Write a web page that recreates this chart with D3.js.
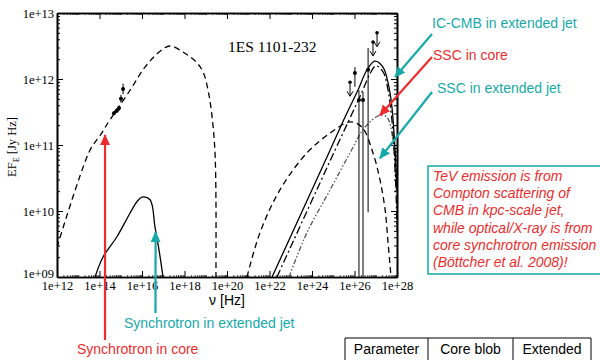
<!DOCTYPE html>
<html>
<head>
<meta charset="utf-8">
<script src="https://cdn.jsdelivr.net/npm/d3@7"></script>
<style>
  body { margin: 0; background: #fff; }
  svg { display: block; }
  .axis path, .axis line { stroke: #000; }
  .axis text { font-family: "Liberation Serif", "DejaVu Serif", serif; font-size: 12.5px; fill: #000; }
  .note { font-family: "Liberation Sans", Arial, sans-serif; font-size: 14px; }
</style>
</head>
<body>
<svg id="chart" width="600" height="360"></svg>
<script>
// values are log10(nu / Hz) and log10(EF_E / Jy Hz)
const coreSyncNu = [12.00, 13.55, 14.02, 14.49, 15.44, 16.14, 16.85, 17.32, 18.02, 18.54, 18.87, 19.15, 19.34, 19.44, 19.48, 19.48];
const coreSyncF  = [9.45, 10.92, 11.14, 11.38, 11.83, 12.18, 12.42, 12.50, 12.39, 12.26, 12.11, 11.76, 11.30, 10.85, 10.17, 9.00];

const extSyncNu = [13.79, 14.16, 14.82, 15.44, 15.76, 16.00, 16.38, 16.61, 16.80, 16.99];
const extSyncF  = [9.00, 9.30, 9.61, 9.97, 10.14, 10.21, 10.17, 9.76, 9.41, 9.00];

const icCmbNu = [22.12, 24.85, 25.55, 26.16, 26.59, 26.96, 27.34, 27.58, 27.76, 27.91, 28.00];
const icCmbF  = [9.00, 10.92, 11.42, 11.83, 12.14, 12.27, 12.18, 11.94, 11.58, 10.92, 10.32];

const icAbsNu = [22.35, 25.08, 25.79, 26.35, 26.73, 27.01, 27.34, 27.58, 27.76, 27.86, 27.95, 28.00];
const icAbsF  = [9.00, 10.92, 11.41, 11.80, 12.08, 12.20, 12.11, 11.83, 11.38, 10.92, 10.32, 9.71];

const sscCoreNu = [22.92, 23.76, 24.85, 25.79, 26.49, 27.20, 27.53, 27.81, 27.95, 28.00];
const sscCoreF  = [9.00, 9.67, 10.32, 10.88, 11.27, 11.45, 11.42, 11.08, 10.47, 10.02];

const sscHumpNu = [20.94, 21.55, 22.49, 23.76, 24.85, 25.79, 26.35, 26.87, 27.20, 27.44, 27.58, 27.72];
const sscHumpF  = [9.00, 9.67, 10.32, 10.88, 11.18, 11.35, 11.27, 10.88, 10.47, 10.02, 9.52, 9.00];

const optNu = [14.68, 14.82, 14.92, 15.01, 15.11];
const optF  = [11.48, 11.52, 11.56, 11.70, 11.85];
const optHi = [11.50, 11.55, 11.60, 11.76, 11.93];
const optLo = [11.46, 11.49, 11.52, 11.64, 11.77];

const tevNu = [26.02, 26.21, 26.40, 26.64];
const tevF  = [12.09, 11.68, 11.68, 12.14];
const tevHi = [12.18, 11.83, 11.80, 12.47];
const tevLo = [11.88, 9.0, 9.0, 9.98];

const ulNu = [25.79, 26.87, 27.06];
const ulF  = [11.95, 12.56, 12.70];

const xTicks = [12, 14, 16, 18, 20, 22, 24, 26, 28];
const yTicks = [9, 10, 11, 12, 13];

const boxLines = ["TeV emission is from", "Compton scattering of", "CMB in kpc-scale jet,",
  "while optical/X-ray is from", "core synchrotron emission", "(Böttcher et al. 2008)!"];
const tableHead = ["Parameter", "Core blob", "Extended"];

const teal = "#17a9a9", red = "#ec2d2d";

const svg = d3.select("#chart");
const margin = {left: 57, right: 203, top: 13, bottom: 83};
const W = 600 - margin.left - margin.right, H = 360 - margin.top - margin.bottom;

const x = d3.scaleLog().domain([1e12, 1e28]).range([margin.left, margin.left + W]);
const y = d3.scaleLog().domain([1e9, 1e13]).range([margin.top + H, margin.top]);
const p = v => Math.pow(10, v);
const fmt = d => "1e+" + String(Math.round(Math.log10(d))).padStart(2, "0");

svg.append("defs").append("clipPath").attr("id", "plot")
  .append("rect").attr("x", margin.left).attr("y", margin.top).attr("width", W).attr("height", H);

// minor ticks
const yMinor = [];
for (let e = 9; e < 13; e++) for (let k = 2; k < 10; k++) yMinor.push(k * p(e));
const xMinor = [];
for (let e = 12; e < 28; e++) for (let k = 1; k < 10; k++) if (!(k === 1 && e % 2 === 0)) xMinor.push(k * p(e));

svg.append("g").attr("class", "axis").attr("transform", `translate(0,${margin.top + H})`)
  .call(d3.axisBottom(x).tickValues(xMinor).tickSize(-2).tickFormat("").tickSizeOuter(0))
  .selectAll("line").attr("stroke-width", 0.7);
svg.append("g").attr("class", "axis").attr("transform", `translate(0,${margin.top})`)
  .call(d3.axisTop(x).tickValues(xMinor).tickSize(-2).tickFormat("").tickSizeOuter(0))
  .selectAll("line").attr("stroke-width", 0.7);
svg.append("g").attr("class", "axis").attr("transform", `translate(${margin.left},0)`)
  .call(d3.axisLeft(y).tickValues(yMinor).tickSize(-3).tickFormat("").tickSizeOuter(0));
svg.append("g").attr("class", "axis").attr("transform", `translate(${margin.left + W},0)`)
  .call(d3.axisRight(y).tickValues(yMinor).tickSize(-3).tickFormat("").tickSizeOuter(0));

// major ticks
svg.append("g").attr("class", "axis").attr("transform", `translate(0,${margin.top + H})`)
  .call(d3.axisBottom(x).tickValues(xTicks.map(p)).tickSize(-6).tickPadding(4).tickFormat(fmt).tickSizeOuter(0));
svg.append("g").attr("class", "axis").attr("transform", `translate(0,${margin.top})`)
  .call(d3.axisTop(x).tickValues(xTicks.map(p)).tickSize(-6).tickFormat("").tickSizeOuter(0));
const yAx = svg.append("g").attr("class", "axis").attr("transform", `translate(${margin.left},0)`)
  .call(d3.axisLeft(y).tickValues(yTicks.map(p)).tickSize(-6).tickPadding(3).tickFormat(fmt).tickSizeOuter(0));
yAx.selectAll("text").filter(d => d === 1e9).attr("dy", "0.02em");
svg.append("g").attr("class", "axis").attr("transform", `translate(${margin.left + W},0)`)
  .call(d3.axisRight(y).tickValues(yTicks.map(p)).tickSize(-6).tickFormat("").tickSizeOuter(0));

svg.selectAll(".axis path.domain").attr("stroke-width", 1.6);

// curves
const line = d3.line().x(d => x(p(d[0]))).y(d => y(p(d[1]))).curve(d3.curveCatmullRom.alpha(0.5));
const plot = svg.append("g").attr("clip-path", "url(#plot)");
const curves = [
  {nu: coreSyncNu, f: coreSyncF, dash: "6,4", color: "#000"},
  {nu: extSyncNu, f: extSyncF, dash: null, color: "#000"},
  {nu: sscHumpNu, f: sscHumpF, dash: "6,4", color: "#000"},
  {nu: sscCoreNu, f: sscCoreF, dash: "5,2,1.5,2,1.5,2", color: "#555"},
  {nu: icAbsNu, f: icAbsF, dash: "8,3,2,3", color: "#000"},
  {nu: icCmbNu, f: icCmbF, dash: null, color: "#000"}
];
curves.forEach(c => {
  plot.append("path")
    .attr("d", line(c.nu.map((v, i) => [v, c.f[i]])))
    .attr("fill", "none").attr("stroke", c.color).attr("stroke-width", 1.3)
    .attr("stroke-dasharray", c.dash);
});

// data points
const pts = plot.append("g");
optNu.forEach((v, i) => {
  pts.append("line").attr("x1", x(p(v))).attr("x2", x(p(v)))
    .attr("y1", y(p(optHi[i]))).attr("y2", y(p(optLo[i]))).attr("stroke", "#000");
  pts.append("circle").attr("cx", x(p(v))).attr("cy", y(p(optF[i]))).attr("r", 2).attr("fill", "#000");
});
pts.append("line").attr("x1", x(p(optNu[0]))).attr("y1", y(p(optF[0])))
  .attr("x2", x(p(optNu[2]))).attr("y2", y(p(optF[2]))).attr("stroke", "#000").attr("stroke-width", 3);
tevNu.forEach((v, i) => {
  pts.append("line").attr("x1", x(p(v))).attr("x2", x(p(v)))
    .attr("y1", y(p(tevHi[i]))).attr("y2", y(p(tevLo[i]))).attr("stroke", "#000");
  pts.append("circle").attr("cx", x(p(v))).attr("cy", y(p(tevF[i]))).attr("r", 2).attr("fill", "#000");
});
ulNu.forEach((v, i) => {
  const cx = x(p(v)), cy = y(p(ulF[i]));
  pts.append("circle").attr("cx", cx).attr("cy", cy).attr("r", 1.8).attr("fill", "#000");
  pts.append("line").attr("x1", cx).attr("x2", cx).attr("y1", cy).attr("y2", cy + 13).attr("stroke", "#000");
  pts.append("path").attr("d", `M${cx - 3},${cy + 9}L${cx},${cy + 14}L${cx + 3},${cy + 9}`)
    .attr("fill", "none").attr("stroke", "#000");
});

// labels
svg.append("text").attr("x", 228).attr("y", 52)
  .attr("font-family", "Liberation Serif, serif").attr("font-size", 15.5).text("1ES 1101-232");
const yl = svg.append("text").attr("transform", "translate(16,147) rotate(-90)")
  .attr("text-anchor", "middle").attr("font-family", "Liberation Serif, serif").attr("font-size", 12.5);
yl.append("tspan").text("EF");
yl.append("tspan").attr("font-size", 8).attr("dy", 3).text("E");
yl.append("tspan").attr("dy", -3).text(" [Jy Hz]");
svg.append("text").attr("x", 227).attr("y", 305).attr("text-anchor", "middle")
  .attr("class", "note").attr("font-size", 13).text("ν [Hz]");

// annotations
const defs = svg.select("defs");
[["tealHead", teal], ["redHead", red]].forEach(([id, col]) => {
  defs.append("marker").attr("id", id).attr("markerUnits", "userSpaceOnUse")
    .attr("viewBox", "0 -5 10 10").attr("refX", 9).attr("refY", 0)
    .attr("markerWidth", 11).attr("markerHeight", 11).attr("orient", "auto")
    .append("path").attr("d", "M0,-4.5L10,0L0,4.5Z").attr("fill", col);
});
const notes = [
  {text: "IC-CMB in extended jet", tx: 432, ty: 28, color: teal, from: [432, 34], tip: [27.91, 12.03]},
  {text: "SSC in core", tx: 433, ty: 60, color: red, from: [432, 57], tip: [27.2, 11.45]},
  {text: "SSC in extended jet", tx: 437, ty: 93, color: teal, from: [432, 92], tip: [27.2, 10.80]},
  {text: "Synchrotron in extended jet", tx: 124, ty: 328, color: teal, from: [155.5, 313], tip: [16.64, 9.68]},
  {text: "Synchrotron in core", tx: 77, ty: 354, color: red, from: [105, 340], tip: [14.26, 11.15]}
];
notes.forEach(n => {
  svg.append("line").attr("x1", n.from[0]).attr("y1", n.from[1])
    .attr("x2", x(p(n.tip[0]))).attr("y2", y(p(n.tip[1])))
    .attr("stroke", n.color).attr("stroke-width", 2.2)
    .attr("marker-end", `url(#${n.color === teal ? "tealHead" : "redHead"})`);
  svg.append("text").attr("class", "note").attr("x", n.tx).attr("y", n.ty)
    .attr("fill", n.color).text(n.text);
});

// text box
svg.append("rect").attr("x", 428).attr("y", 166).attr("width", 200).attr("height", 108)
  .attr("fill", "#fff").attr("stroke", teal).attr("stroke-width", 1.5);
svg.append("g").selectAll("text").data(boxLines).join("text")
  .attr("class", "note").attr("x", 433).attr("y", (d, i) => 181 + i * 17.2)
  .attr("font-style", "italic").attr("fill", red).text(d => d);

// table header
const cols = [345, 428, 513, 591];
svg.append("path").attr("d", `M${cols[0]},370V338H${cols[3]}V370`).attr("fill", "none").attr("stroke", "#000");
cols.slice(1, 3).forEach(c => svg.append("line").attr("x1", c).attr("x2", c).attr("y1", 338).attr("y2", 370).attr("stroke", "#000"));
tableHead.forEach((t, i) => {
  svg.append("text").attr("class", "note").attr("x", (cols[i] + cols[i + 1]) / 2).attr("y", 354)
    .attr("text-anchor", "middle").attr("fill", "#000").text(t);
});
</script>
</body>
</html>
